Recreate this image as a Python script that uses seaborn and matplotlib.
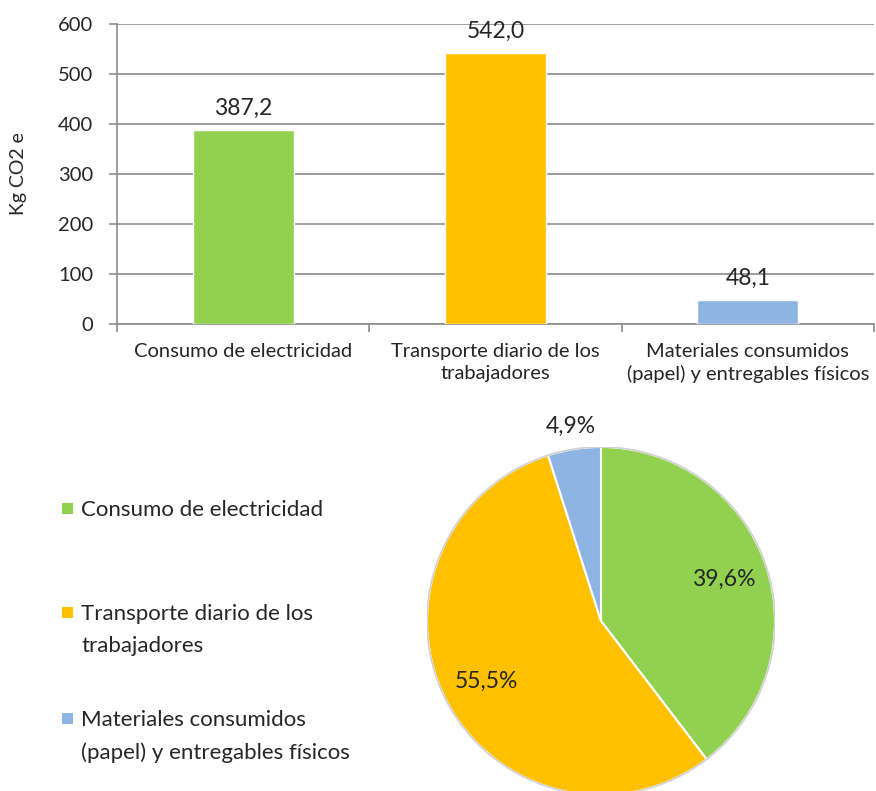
import numpy as np
import matplotlib
matplotlib.use("Agg")
import matplotlib.pyplot as plt
from matplotlib.patches import Rectangle, Circle
import seaborn as sns

# Emission sources and their footprint (kg CO2 e)
categories = [
    "Consumo de electricidad",
    "Transporte diario de los\ntrabajadores",
    "Materiales consumidos\n(papel) y entregables físicos",
]
emissions = [387.2, 542.0, 48.1]
colors = ["#92D050", "#FFC000", "#8EB4E3"]
y_ticks = [0, 100, 200, 300, 400, 500, 600]
y_label = "Kg CO2 e"

sns.set_theme(style="white")
plt.rcParams["font.family"] = ["Lato", "DejaVu Sans"]
text_color = "#262626"
grid_color = "#8C8C8C"

W, H = 876, 791
fig = plt.figure(figsize=(W / 100, H / 100), dpi=100)


def fx(px):
    return px / W


def fy(py):
    return 1 - py / H


def comma(v, fmt="{:.1f}"):
    return fmt.format(v).replace(".", ",")


# ---- bar chart -------------------------------------------------------------
ax_left, ax_right = 117, 874
ax = fig.add_axes([fx(ax_left), fy(324), fx(ax_right) - fx(ax_left), fy(24) - fy(324)])
sns.barplot(x=categories, y=emissions, hue=categories, palette=colors,
            saturation=1, legend=False, width=0.4, edgecolor="white",
            linewidth=1, ax=ax, zorder=3)
ax.set_xlim(-0.5, len(categories) - 0.5)
ax.set_ylim(0, 600)
ax.set_yticks(y_ticks)
ax.set_yticklabels([str(t) for t in y_ticks])
ax.yaxis.grid(True, color=grid_color, linewidth=1.2, zorder=0)
ax.set_axisbelow(True)
for s in ["top", "right"]:
    ax.spines[s].set_visible(False)
for s in ["left", "bottom"]:
    ax.spines[s].set_color(grid_color)
    ax.spines[s].set_linewidth(1.2)
ax.tick_params(axis="y", which="major", length=6, width=1.2, color=grid_color,
               pad=11, labelsize=14.5, labelcolor=text_color, left=True)
ax.set_xticks(range(len(categories)))
ax.set_xticklabels(categories, linespacing=1.3)
ax.set_xticks(np.arange(-0.5, len(categories)), minor=True)
ax.tick_params(axis="x", which="major", length=0, pad=14, labelsize=14.5,
               labelcolor=text_color)
ax.tick_params(axis="x", which="minor", length=6, width=1.2, color=grid_color,
               bottom=True)
ax.set_xlabel("")
ax.set_ylabel(y_label, fontsize=14, color=text_color)
ax.yaxis.set_label_coords((27 - ax_left) / (ax_right - ax_left), 0.5)

for i, v in enumerate(emissions):
    ax.annotate(comma(v), (i, v), xytext=(0, 8), textcoords="offset points",
                ha="center", va="bottom", fontsize=16.5, color=text_color)

# ---- pie chart -------------------------------------------------------------
r_px = 174
cx, cy = 601, 621
pax = fig.add_axes([fx(cx - r_px), fy(cy + r_px), 2 * r_px / W, 2 * r_px / H])
wedges, _, autotexts = pax.pie(
    emissions, colors=colors, startangle=90, counterclock=False,
    autopct=lambda p: comma(p) + "%", pctdistance=0.745,
    wedgeprops=dict(edgecolor="white", linewidth=1.5),
    textprops=dict(fontsize=16.5, color=text_color),
)
pax.add_patch(Circle((0, 0), 1.0, fill=False, edgecolor="#D0D0D0",
                     linewidth=1.2, zorder=5))
# the thin slice gets its label outside the pie
w = wedges[2]
mid = np.deg2rad((w.theta1 + w.theta2) / 2)
autotexts[2].set_position((1.13 * np.cos(mid), 1.13 * np.sin(mid)))
pax.set_xlim(-1, 1)
pax.set_ylim(-1, 1)
for wd in wedges:
    wd.set_clip_on(False)

# ---- legend ----------------------------------------------------------------
legend_rows = [508, 612, 718]
for lab, col, yy in zip(categories, colors, legend_rows):
    fig.patches.append(Rectangle((fx(62), fy(yy + 5.5)), 11 / W, 11 / H,
                                 transform=fig.transFigure, facecolor=col,
                                 edgecolor="none"))
    fig.text(fx(81), fy(yy - 8), lab, ha="left", va="top", fontsize=16,
             color=text_color, linespacing=1.75)

fig.savefig("out.png", dpi=100, facecolor="white")
